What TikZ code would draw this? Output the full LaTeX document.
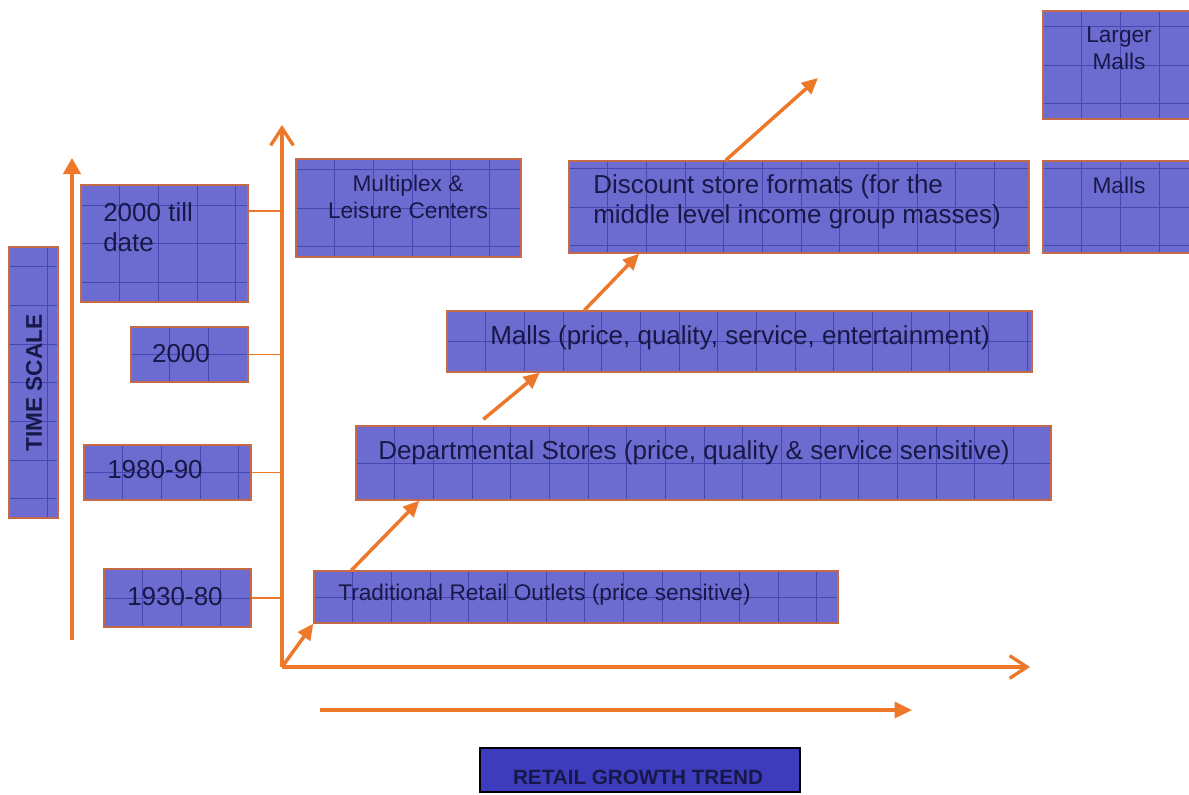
\documentclass[tikz,border=0pt]{standalone}
\usepackage{fontspec}
\setmainfont{Liberation Sans}
\usetikzlibrary{arrows.meta, fit}
\definecolor{cellfill}{RGB}{108,108,208}
\definecolor{cellgrid}{RGB}{70,70,178}
\definecolor{cellline}{RGB}{196,106,72}
\definecolor{trendfill}{RGB}{60,60,188}
\definecolor{axisor}{RGB}{238,120,42}
\definecolor{inkblue}{RGB}{24,24,72}
\tikzset{
	cell/.style={draw=cellline, line width=1pt, fill=cellfill, inner sep=0pt,
		path picture={\draw[cellgrid, line width=0.5pt] (path picture bounding box.south west) grid[xstep=29pt, ystep=29pt] (path picture bounding box.north east);}},
	lbl/.style={text=inkblue, inner sep=0pt, font=\fontsize{19.5}{22.5}\selectfont},
	small/.style={font=\fontsize{17}{20}\selectfont},
	axis/.style={axisor, line width=2.5pt},
	tick/.style={axisor, line width=1pt},
	fwd/.style={axisor, line width=2.6pt, -{Triangle[length=12pt, width=11pt]}}
}

\begin{document}
\begin{tikzpicture}[x=0.75pt, y=-0.75pt]
	\useasboundingbox (0,0) rectangle (1189,794);
	\fill[white] (0,0) rectangle (1189,794);
	\clip (0,0) rectangle (1189,794);
	% time scale
	\node[cell, fit={(9,247) (58,518)}] (tscale) {};
	\node[lbl, rotate=90, font=\bfseries\fontsize{17}{20}\selectfont] (tscaletxt) at (34,383) {TIME SCALE};
	\coordinate (tbot) at (72,640);
	\coordinate (ttop) at (72,158);
	\draw[axis, -{Triangle[length=12pt, width=13pt]}] (tbot) -- (ttop);
	% periods
	\node[cell, fit={(81,185) (248,302)}] (p4) {};
	\node[lbl, align=left, anchor=west] (p4txt) at (103,227) {2000 till\\date};
	\node[cell, fit={(131,327) (248,382)}] (p3) {};
	\node[lbl] (p3txt) at (181,354) {2000};
	\node[cell, fit={(84,445) (251,500)}] (p2) {};
	\node[lbl] (p2txt) at (155,470) {1980-90};
	\node[cell, fit={(104,569) (251,627)}] (p1) {};
	\node[lbl] (p1txt) at (175,597) {1930-80};
	% axes
	\coordinate (origin) at (282,667);
	\coordinate (ytop) at (282,125);
	\coordinate (xend) at (1030,667);
	\draw[axis, -{Straight Barb[length=13pt, width=17pt]}] (origin) -- (ytop);
	\draw[axis, -{Straight Barb[length=13pt, width=17pt]}] (origin) -- (xend);
	\coordinate (p4tick) at ([yshift=-20pt]p4.north east);
	\draw[tick] (p4tick) -- (p4tick -| origin);
	\foreach \p in {p3,p2,p1}
	\draw[tick] (\p.east) -- (\p.east -| origin);
	% formats
	\node[cell, fit={(314,571) (838,623)}] (trad) {};
	\node[lbl, small, anchor=west] (tradtxt) at (338,595) {Traditional Retail Outlets (price sensitive)};
	\node[cell, fit={(356,426) (1051,500)}] (dept) {};
	\node[lbl, anchor=west] (depttxt) at (378,453) {Departmental Stores (price, quality \& service sensitive)};
	\node[cell, fit={(447,311) (1032,372)}] (malls) {};
	\node[lbl] (mallstxt) at (740,338) {Malls (price, quality, service, entertainment)};
	\node[cell, fit={(569,161) (1029,253)}] (disc) {};
	\node[lbl, anchor=west, align=left] (disctxt) at (593,202) {Discount store formats (for the\\middle level income group masses)};
	\node[cell, fit={(296,159) (521,257)}] (multi) {};
	\node[lbl, small, align=center] (multitxt) at (408,197) {Multiplex \&\\Leisure Centers};
	\node[cell, fit={(1043,11) (1200,119)}] (large) {};
	\node[lbl, small, align=center] (largetxt) at (1119,48) {Larger\\Malls};
	\node[cell, fit={(1043,161) (1200,253)}] (mallsr) {};
	\node[lbl, small] (mallsrtxt) at (1119,185) {Malls};
	% growth steps
	\draw[fwd] (origin) -- (trad.south west);
	\draw[fwd] ([xshift=28.5pt]trad.north west) -- ([xshift=48pt]dept.south west);
	\draw[fwd] ([xshift=96pt, yshift=4.5pt]dept.north west) -- ([xshift=70pt]malls.south west);
	\draw[fwd] ([xshift=103.5pt]malls.north west) -- ([xshift=53pt]disc.south west);
	\coordinate (next) at (818,78);
	\draw[fwd] ([xshift=118pt]disc.north west) -- (next);
	% trend
	\coordinate (gstart) at (320,710);
	\coordinate (gend) at (912,710);
	\draw[axis, -{Triangle[length=13pt, width=12pt]}] (gstart) -- (gend);
	\node[fit={(480,748) (800,792)}, inner sep=0pt, draw=black, line width=1.6pt, fill=trendfill] (trend) {};
	\node[lbl, font=\bfseries\fontsize{15.5}{18}\selectfont] (trendtxt) at (638,777) {RETAIL GROWTH TREND};
\end{tikzpicture}
\end{document}
